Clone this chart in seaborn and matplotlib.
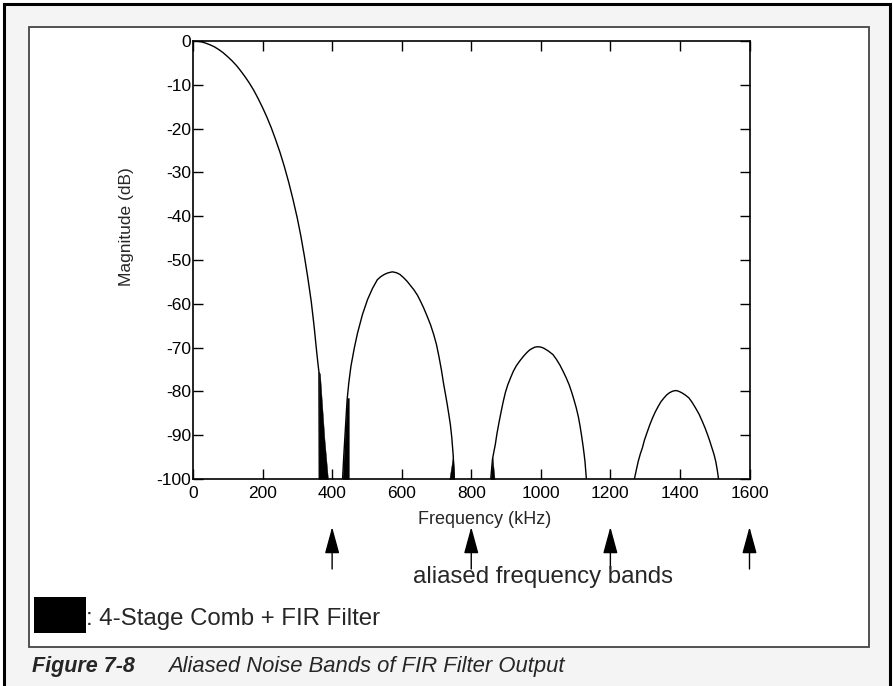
import numpy as np
import pandas as pd
import matplotlib
matplotlib.use('Agg')
import matplotlib.pyplot as plt
import matplotlib.patches as mpatches
from matplotlib.transforms import blended_transform_factory
import seaborn as sns

# ---------------- data ----------------
lobe1_f = [0, 12, 25, 37, 50, 62, 75, 87, 100, 112, 125, 137, 150, 162, 175, 187, 200, 212, 225,
           237, 250, 262, 275, 287, 300, 310, 320, 330, 340, 348, 355, 359, 362, 363]
lobe1_db = [0, -0.05, -0.2, -0.5, -0.9, -1.35, -2.0, -2.7, -3.6, -4.5, -5.6, -6.8, -8.2, -9.6, -11.3,
            -13.1, -15.2, -17.3, -19.8, -22.4, -25.4, -28.5, -32.2, -36, -40.5, -44.5, -49, -54,
            -59.5, -65, -70.5, -73.5, -75.5, -100]

lobe2_f = [430, 434, 437, 440, 443, 448, 454, 464, 473, 487, 502, 516, 530, 540, 550, 560, 573, 585,
           595, 605, 616, 625, 635, 645, 654, 663, 673, 683, 692, 700, 707, 714, 721, 726, 731, 736,
           740, 744, 748, 751]
lobe2_db = [-100, -94, -90, -86, -82, -78, -74.3, -70, -66.7, -62.5, -59, -56.5, -54.5, -53.8, -53.3,
            -52.95, -52.7, -52.9, -53.3, -54.0, -54.9, -55.8, -56.8, -58.0, -59.4, -60.9, -62.8, -64.8,
            -67, -69.3, -72, -75, -78.5, -80.7, -83, -85.5, -87.6, -90.5, -94.5, -100]

lobe3_f = [856, 861, 865, 869, 874, 880, 886, 892, 898, 905, 913, 921, 930, 940, 950, 959, 967, 975,
           983, 992, 1001, 1010, 1022, 1035, 1045, 1055, 1064, 1073, 1082, 1090, 1096, 1102, 1108,
           1113, 1117, 1121, 1124, 1127, 1131]
lobe3_db = [-100, -95.5, -93.8, -92.2, -89.6, -87, -84.6, -82.3, -80.3, -78.5, -76.9, -75.4, -74.1,
            -73, -72, -71.2, -70.6, -70.2, -69.9, -69.8, -69.9, -70.2, -70.8, -71.6, -72.7, -74, -75.4,
            -76.9, -78.6, -80.5, -82.1, -83.8, -85.8, -88, -90, -92.2, -94, -96, -100]

lobe4_f = [1269, 1275, 1280, 1286, 1292, 1298, 1305, 1313, 1321, 1329, 1337, 1345, 1354, 1362, 1370,
           1379, 1388, 1396, 1405, 1415, 1426, 1435, 1445, 1455, 1464, 1472, 1480, 1486, 1492, 1498,
           1503, 1507, 1511]
lobe4_db = [-100, -97.8, -96, -94.3, -92.9, -91.1, -89.5, -87.7, -86.1, -84.7, -83.5, -82.4, -81.5,
            -80.8, -80.3, -79.95, -79.8, -79.95, -80.3, -80.8, -81.5, -82.5, -83.8, -85.2, -86.8, -88.3,
            -90, -91.4, -92.9, -94.4, -96, -97.8, -100]

# aliased noise bands (black areas), upper edge in dB, lower edge -100 dB
band1_f = [362, 365, 371, 378, 388]
band1_db = [-75.5, -76, -83, -91, -100]
band2_f = [430, 437, 443, 448]
band2_db = [-100, -90, -81.5, -81.5]
band3_f = [737, 748, 751]
band3_db = [-100, -94.5, -100]
band4_f = [856, 861, 867]
band4_db = [-100, -95, -100]

x_ticks = [0, 200, 400, 600, 800, 1000, 1200, 1400, 1600]
y_ticks = [0, -10, -20, -30, -40, -50, -60, -70, -80, -90, -100]
y_ticklabels = ['0', '-10', '-20', '-30', '-40', '-50', '-60', '-70', '-80', '-90', '-100']
arrow_freqs = [400, 800, 1200, 1600]

# ---------------- figure ----------------
sns.set_style('ticks')
plt.rcParams['font.family'] = ['Liberation Sans', 'DejaVu Sans']
plt.rcParams['axes.unicode_minus'] = False

W, H = 893, 686
fig = plt.figure(figsize=(W / 100, H / 100), dpi=100)
fig.patch.set_facecolor('white')


def fx(px):
    return px / W


def fy(py):
    return 1 - py / H


# outer light-grey frame with black border (bottom cut off)
fig.patches.append(mpatches.Rectangle((fx(4), fy(700)), fx(890) - fx(4), fy(4) - fy(700),
                                      transform=fig.transFigure, facecolor='#f4f4f4',
                                      edgecolor='black', linewidth=2.2, zorder=-3))
# inner white panel
fig.patches.append(mpatches.Rectangle((fx(29), fy(647)), fx(869) - fx(29), fy(27) - fy(647),
                                      transform=fig.transFigure, facecolor='white',
                                      edgecolor='#444444', linewidth=1.3, zorder=-2))

ax = fig.add_axes([fx(193), fy(479), fx(749.5) - fx(193), fy(41) - fy(479)])
ax.set_facecolor('none')

frames = []
for i, (f, d) in enumerate([(lobe1_f, lobe1_db), (lobe2_f, lobe2_db),
                            (lobe3_f, lobe3_db), (lobe4_f, lobe4_db)]):
    frames.append(pd.DataFrame({'f': f, 'db': d, 'lobe': i}))
df = pd.concat(frames, ignore_index=True)

sns.lineplot(data=df, x='f', y='db', units='lobe', estimator=None, sort=False,
             color='black', linewidth=1.0, ax=ax, legend=False)

for bf, bd in [(band1_f, band1_db), (band2_f, band2_db), (band3_f, band3_db), (band4_f, band4_db)]:
    ax.fill_between(bf, bd, -100, color='black', linewidth=0.3, edgecolor='black')

ax.set_xlim(0, 1600)
ax.set_ylim(-100, 0)
ax.set_xticks(x_ticks)
ax.set_xticklabels([str(t) for t in x_ticks])
ax.set_yticks(y_ticks)
ax.set_yticklabels(y_ticklabels)
ax.tick_params(direction='in', length=7, width=1.0, top=True, right=True,
               labelsize=12.5, colors='black')
ax.tick_params(axis='x', pad=5)
ax.tick_params(axis='y', pad=1.5)
for s in ax.spines.values():
    s.set_linewidth(1.2)
    s.set_color('black')
ax.set_xlabel('')
ax.set_ylabel('')

fig.text(fx(485), fy(519), 'Frequency (kHz)', ha='center', va='center', fontsize=13)
fig.text(fx(127), fy(227), 'Magnitude (dB)', ha='center', va='center', fontsize=12.5, rotation=90)

# arrows marking aliased frequency bands
trans = blended_transform_factory(ax.transData, fig.transFigure)
for f in arrow_freqs:
    ax.annotate('', xy=(f, fy(527)), xytext=(f, fy(569)), xycoords=trans, textcoords=trans,
                annotation_clip=False,
                arrowprops=dict(arrowstyle='-|>,head_length=1.65,head_width=0.45',
                                mutation_scale=10, color='black', lw=1.0,
                                shrinkA=0, shrinkB=0))

fig.text(fx(543), fy(577), 'aliased frequency bands', ha='center', va='center', fontsize=17.3)

# legend
fig.patches.append(mpatches.Rectangle((fx(34), fy(633)), fx(86) - fx(34), fy(597) - fy(633),
                                      transform=fig.transFigure, facecolor='black',
                                      edgecolor='none', zorder=1))
fig.text(fx(86), fy(625), ': 4-Stage Comb + FIR Filter', ha='left', va='baseline', fontsize=17.3)

# caption
fig.text(fx(32), fy(672), 'Figure 7-8', ha='left', va='baseline', fontsize=15.5,
         fontweight='bold', fontstyle='italic')
fig.text(fx(168), fy(672), 'Aliased Noise Bands of FIR Filter Output', ha='left', va='baseline',
         fontsize=15.8, fontstyle='italic')

fig.savefig('out.png', dpi=100, facecolor=fig.get_facecolor())
